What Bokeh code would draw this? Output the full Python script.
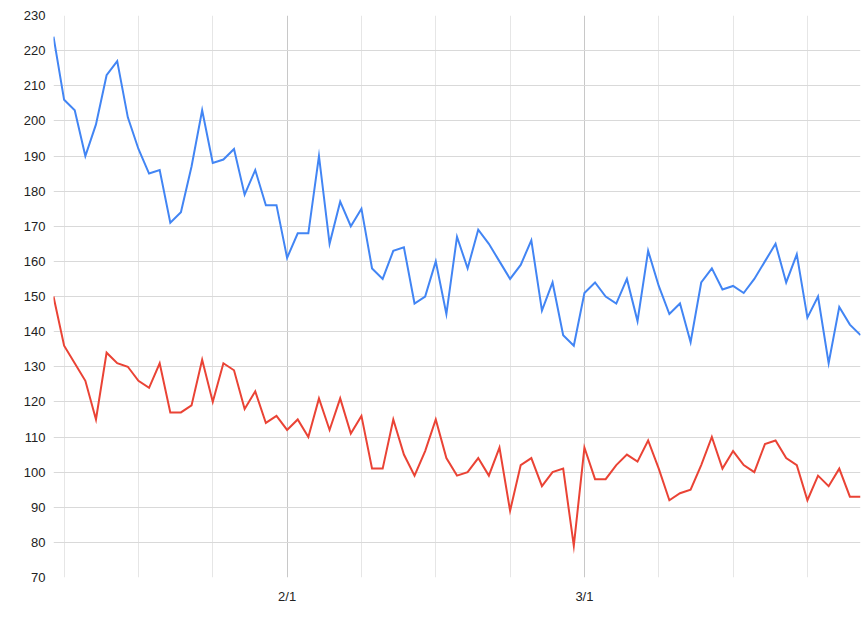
import pandas as pd
from bokeh.plotting import figure
from bokeh.models import Range1d, FixedTicker, CustomJSTickFormatter, ColumnDataSource
from bokeh.embed import file_html
from bokeh.resources import INLINE

# ---- data ----
start_date = "2015-01-10"
end_date = "2015-03-27"
dates = pd.date_range(start_date, end_date, freq="D")

blue_values = [224, 206, 203, 190, 199, 213, 217, 201, 192, 185, 186, 171, 174, 187, 203, 188,
               189, 192, 179, 186, 176, 176, 161, 168, 168, 190, 165, 177, 170, 175, 158, 155,
               163, 164, 148, 150, 160, 145, 167, 158, 169, 165, 160, 155, 159, 166, 146, 154,
               139, 136, 151, 154, 150, 148, 155, 143, 163, 153, 145, 148, 137, 154, 158, 152,
               153, 151, 155, 160, 165, 154, 162, 144, 150, 131, 147, 142, 139]
red_values = [150, 136, 131, 126, 115, 134, 131, 130, 126, 124, 131, 117, 117, 119, 132, 120,
              131, 129, 118, 123, 114, 116, 112, 115, 110, 121, 112, 121, 111, 116, 101, 101,
              115, 105, 99, 106, 115, 104, 99, 100, 104, 99, 107, 89, 102, 104, 96, 100,
              101, 79, 107, 98, 98, 102, 105, 103, 109, 101, 92, 94, 95, 102, 110, 101,
              106, 102, 100, 108, 109, 104, 102, 92, 99, 96, 101, 93, 93]

x_major_ticks = ["2015-02-01", "2015-03-01"]
y_min, y_max, y_step = 70, 230, 10

source = ColumnDataSource(dict(date=dates, blue=blue_values, red=red_values))

def ms(d):
    return pd.Timestamp(d).value / 1e6

major = [ms(d) for d in x_major_ticks]
sundays = [ms(d) for d in pd.date_range(start_date, end_date, freq="W-SUN")]
minor = [t for t in sundays if t not in major]

p = figure(width=863, height=608, x_axis_type="datetime",
           output_backend="svg", toolbar_location=None,
           x_range=Range1d(ms(start_date), ms(end_date)),
           y_range=Range1d(y_min, y_max),
           min_border_left=53, min_border_right=3, min_border_top=15, min_border_bottom=31)
p.outline_line_color = None
p.background_fill_color = "white"
p.border_fill_color = "white"

p.line("date", "blue", source=source, line_color="#4285F4", line_width=2, line_join="miter")
p.line("date", "red", source=source, line_color="#EA4335", line_width=2, line_join="miter")

# x axis
p.xaxis.ticker = FixedTicker(ticks=major, minor_ticks=minor)
p.xaxis.formatter = CustomJSTickFormatter(code="""
const d = new Date(tick);
return (d.getUTCMonth() + 1) + "/" + d.getUTCDate();
""")
p.xgrid.ticker = FixedTicker(ticks=major, minor_ticks=minor)
p.xgrid.grid_line_color = "#c8c8c8"
p.xgrid.minor_grid_line_color = "#e6e6e6"

# y axis
yticks = list(range(y_min, y_max + 1, y_step))
p.yaxis.ticker = FixedTicker(ticks=yticks)
p.ygrid.ticker = FixedTicker(ticks=yticks)
p.ygrid.grid_line_color = "#d9d9d9"

for ax in (p.xaxis, p.yaxis):
    ax.axis_line_color = None
    ax.major_tick_line_color = None
    ax.minor_tick_line_color = None
    ax.major_tick_out = 0
    ax.major_tick_in = 0
    ax.major_label_text_font = "Liberation Sans"
    ax.major_label_text_font_size = "13px"
    ax.major_label_text_color = "#222222"
p.yaxis.major_label_standoff = 8
p.xaxis.major_label_standoff = 7

open("out.html", "w").write(file_html(p, INLINE))
